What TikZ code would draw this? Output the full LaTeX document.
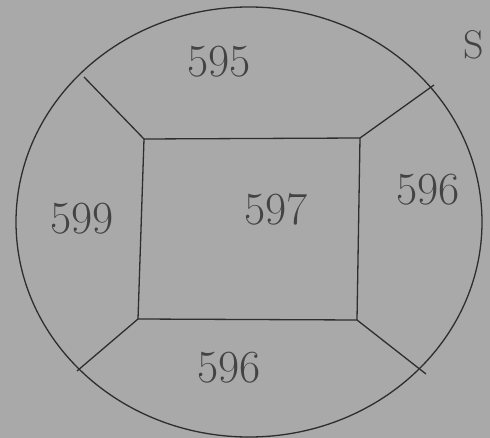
\documentclass[tikz,border=0pt]{standalone}
\usepackage{tikz}

\definecolor{paper}{HTML}{A9A9A9}
\definecolor{pen}{HTML}{2E2E2E}

\begin{document}
\begin{tikzpicture}[x=1pt, y=-1pt, line width=1.3pt, draw=pen,
  lbl/.style={text=pen!90, font=\fontsize{46}{46}\selectfont}]
\fill[paper] (0,0) rectangle (490,438);
\useasboundingbox (0,0) rectangle (490,438);
% outer ring
\draw[pen] (249,222) ellipse[x radius=233, y radius=215];
% inner box corners
\coordinate (tl) at (144,139);
\coordinate (tr) at (360,138);
\coordinate (br) at (357,320);
\coordinate (bl) at (138,319);
\draw[pen] (tl)--(tr)--(br)--(bl)--cycle;
% spokes out to the ring
\coordinate (otl) at (84,77);
\coordinate (otr) at (434,85);
\coordinate (obl) at (77,371);
\coordinate (obr) at (426,374);
\draw[pen] (tl)--(otl);
\draw[pen] (tr)--(otr);
\draw[pen] (bl)--(obl);
\draw[pen] (br)--(obr);
% room numbers
\node[lbl] (top) at (219,62) {595};
\node[lbl] (right) at (428,190) {596};
\node[lbl] (left) at (82,219) {599};
\node[lbl] (mid) at (276,209) {597};
\node[lbl] (bottom) at (229,368) {596};
\node[lbl, font=\fontsize{40}{40}\selectfont] (s) at (474,45) {S};
\end{tikzpicture}
\end{document}
